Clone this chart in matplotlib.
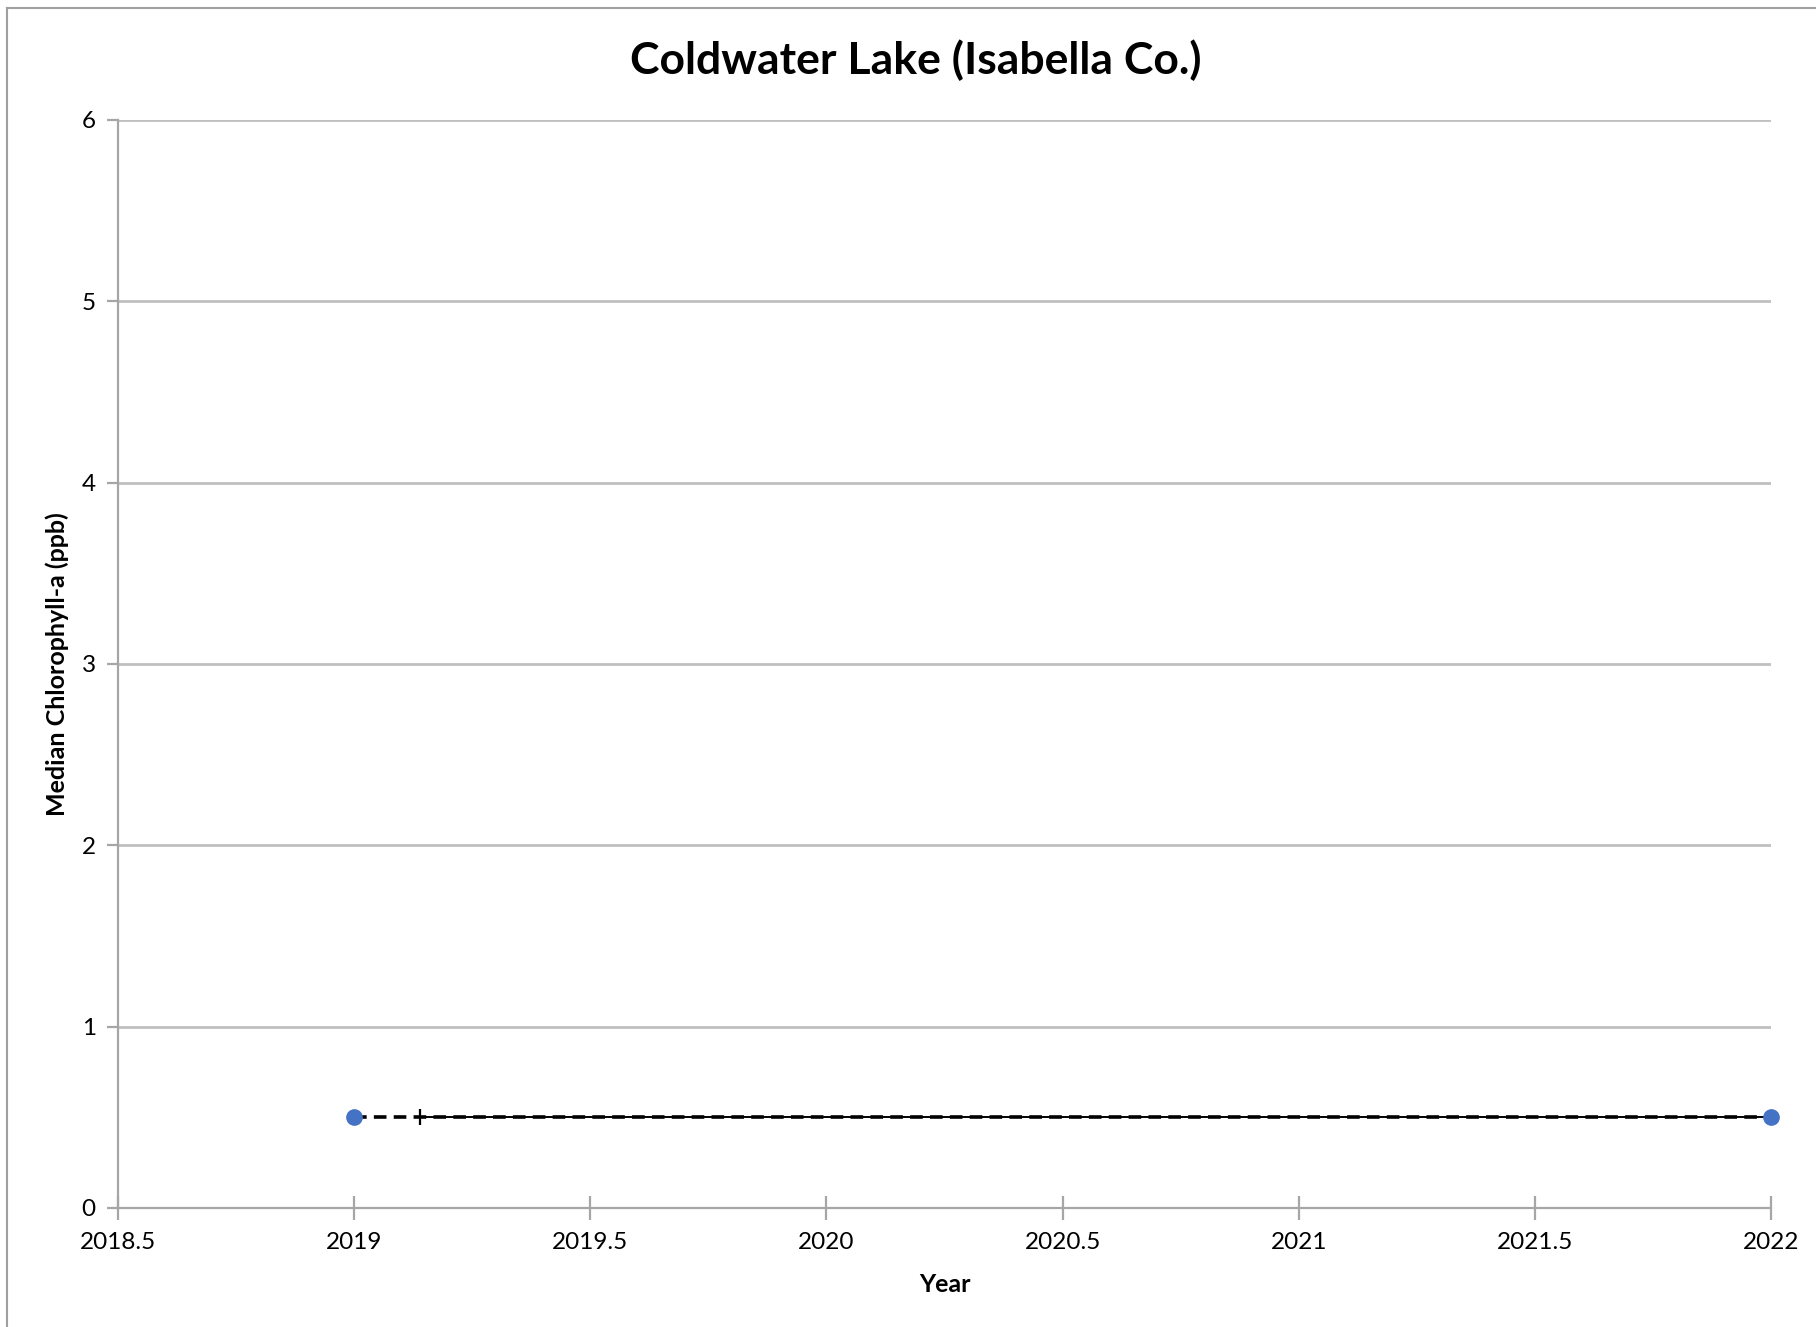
import matplotlib
matplotlib.use('Agg')
import matplotlib.pyplot as plt
from matplotlib.lines import Line2D

# data
years = [2019, 2022]
chl_median = [0.5, 0.5]
trend_x = [2019, 2022]
trend_y = [0.5, 0.5]
span_x = [2019.14, 2022]
span_y = [0.5, 0.5]

x_ticks = [2018.5, 2019, 2019.5, 2020, 2020.5, 2021, 2021.5, 2022]
x_tick_labels = ['2018.5', '2019', '2019.5', '2020', '2020.5', '2021', '2021.5', '2022']
y_ticks = [0, 1, 2, 3, 4, 5, 6]

plt.rcParams['font.family'] = ['Lato', 'DejaVu Sans']

W, H = 1816, 1327
fig = plt.figure(figsize=(W / 100, H / 100), dpi=100)
ax = fig.add_axes([118 / W, 1 - 1208 / H, (1771 - 118) / W, (1208 - 120) / H])

grid_c = '#c0c0c0'
axis_c = '#a6a6a6'

for y in y_ticks[1:]:
    ax.axhline(y, color=grid_c, lw=2, zorder=1)

# solid segment with start tick, then dashed trend line, then markers
ax.plot(span_x, span_y, color='black', lw=1.4, zorder=2)
ax.plot(span_x[:1], span_y[:1], marker='|', ms=11, mew=1.6, color='black', zorder=2)
ax.plot(trend_x, trend_y, color='black', lw=2.6, ls=(0, (3.5, 2)), zorder=3)
ax.plot(years, chl_median, ls='none', marker='o', ms=11, color='#4472c4', zorder=4, clip_on=False)

ax.set_xlim(2018.5, 2022)
ax.set_ylim(0, 6)
ax.set_xticks(x_ticks)
ax.set_xticklabels(x_tick_labels)
ax.set_yticks(y_ticks)

for s in ['top', 'right']:
    ax.spines[s].set_visible(False)
for s in ['left', 'bottom']:
    ax.spines[s].set_color(axis_c)
    ax.spines[s].set_linewidth(1.6)

ax.tick_params(axis='x', direction='inout', length=17, width=1.6, color=axis_c,
               labelsize=17.5, pad=9)
ax.tick_params(axis='y', direction='out', length=8, width=1.6, color=axis_c,
               labelsize=17.5, pad=8)

ax.set_xlabel('Year', fontsize=18, fontweight='bold', labelpad=14)
ax.set_ylabel('Median Chlorophyll-a (ppb)', fontsize=18, fontweight='bold', labelpad=9)
fig.text(916 / W, 1 - 60 / H, 'Coldwater Lake (Isabella Co.)',
         ha='center', va='center', fontsize=32, fontweight='bold')

# chart border (left and top edges visible)
fig.add_artist(Line2D([7 / W, 7 / W], [0, 1 - 8 / H], color='#a0a0a0', lw=1.5,
                      transform=fig.transFigure))
fig.add_artist(Line2D([7 / W, 1], [1 - 8 / H, 1 - 8 / H], color='#a0a0a0', lw=1.5,
                      transform=fig.transFigure))

fig.savefig('out.png', dpi=100)
plt.close(fig)
